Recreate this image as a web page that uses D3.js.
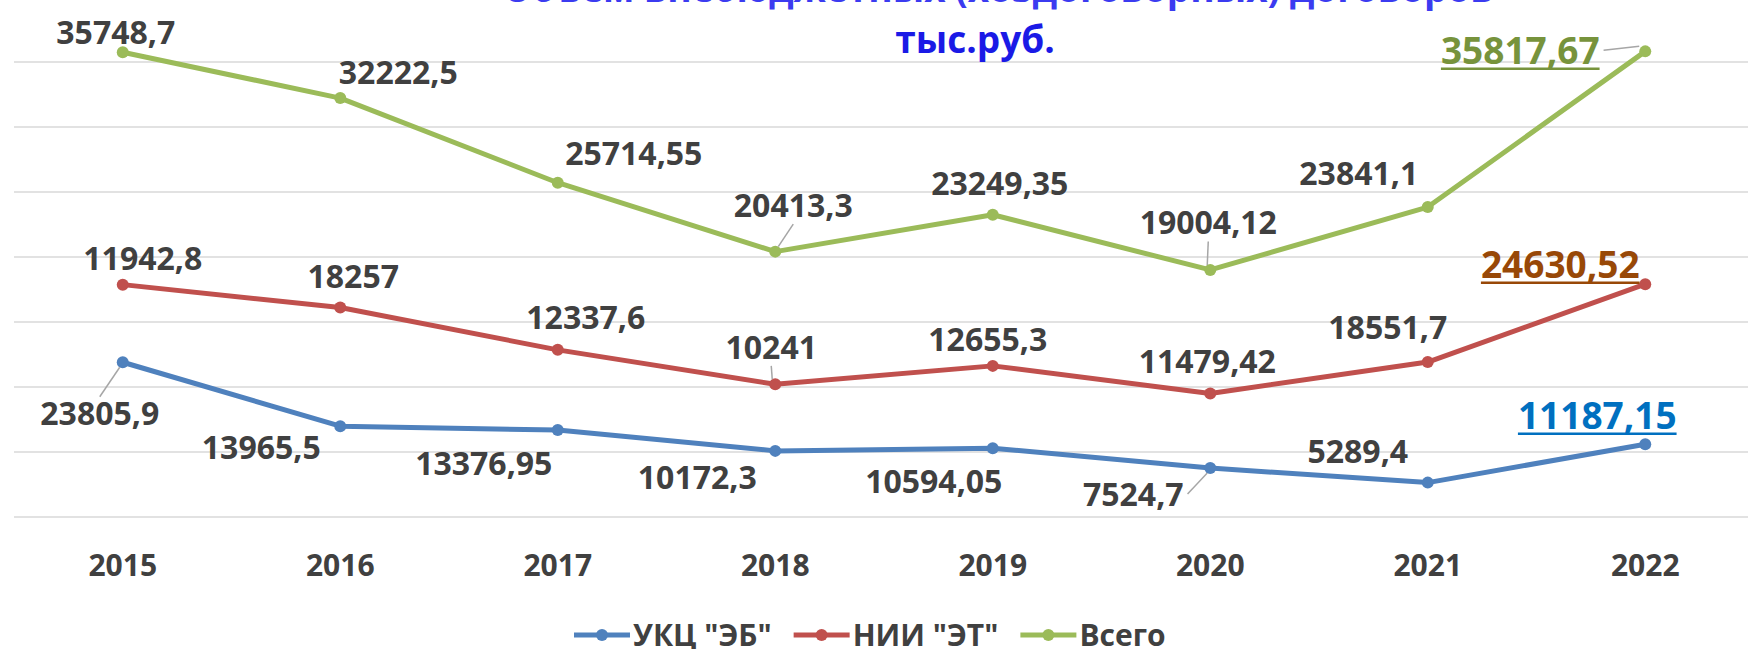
<!DOCTYPE html>
<html>
<head>
<meta charset="utf-8">
<script src="https://d3js.org/d3.v7.min.js"></script>
<style>
  html, body { margin: 0; padding: 0; background: #fff; }
  svg { display: block; font-family: "Open Sans", sans-serif; }
</style>
</head>
<body>
<svg id="chart" width="1748" height="649"></svg>
<script>
// data: stacked line chart (Excel), each series stacked on the previous one
var years = ["2015", "2016", "2017", "2018", "2019", "2020", "2021", "2022"];
var ukc = [23805.9, 13965.5, 13376.95, 10172.3, 10594.05, 7524.7, 5289.4, 11187.15];
var nii = [11942.8, 18257, 12337.6, 10241, 12655.3, 11479.42, 18551.7, 24630.52];
var total = [35748.7, 32222.5, 25714.55, 20413.3, 23249.35, 19004.12, 23841.1, 35817.67];
var seriesNames = ['УКЦ "ЭБ"', 'НИИ "ЭТ"', "Всего"];
var gridTicks = [0, 10000, 20000, 30000, 40000, 50000, 60000, 70000, 80000];

// label placement (manual, like in the source chart), px relative to the point
var labelOffsets = [
  [[-23, 51], [-79, 21], [-74, 33], [-78, 27], [-59, 33], [-77, 26], [-70, -31], [-48, -29]],
  [[20, -26], [13, -31], [28, -32], [-4, -37], [-5, -26], [-3, -32], [-40, -35], [-85, -20]],
  [[-7, -20], [58, -26], [76, -29], [18, -46], [7, -31], [-2, -47], [-69, -34], [-125, -1]]
];
var leaders = [[0, 5], [3], [3, 5, 7]]; // indices with a leader line
var colors = ["#4f81bd", "#c0504d", "#9bbb59"];
var lastLabelColors = ["#0070c0", "#984807", "#77933c"];

var svg = d3.select("#chart");
var fmt = function(v) { return String(v).replace(".", ","); };

var x = d3.scalePoint().domain(years).range([14, 1754]).padding(0.5);
var y = d3.scaleLinear().domain([0, 80000]).range([517, -3]);

// gridlines
svg.append("g").selectAll("line").data(gridTicks).join("line")
  .attr("x1", 14).attr("x2", 1754)
  .attr("y1", d => y(d)).attr("y2", d => y(d))
  .attr("stroke", "#d9d9d9").attr("stroke-width", 1.5);

// titles (top line is cut off in the source)
svg.append("text").attr("x", 998).attr("y", 2).attr("text-anchor", "middle")
  .attr("font-size", 37).attr("font-weight", 700).attr("fill", "#3b3bf0")
  .text("Объем внебюджетных (хоздоговорных) договоров");
svg.append("text").attr("x", 975).attr("y", 53).attr("text-anchor", "middle")
  .attr("font-size", 37).attr("font-weight", 700).attr("fill", "#1a1ae6")
  .text("тыс.руб.");

// x axis labels
svg.append("g").selectAll("text").data(years).join("text")
  .attr("x", d => x(d)).attr("y", 576).attr("text-anchor", "middle")
  .attr("font-size", 30).attr("font-weight", 700).attr("fill", "#404040")
  .text(d => d);

// stack
var raw = [ukc, nii, total];
var stacked = [];
var acc = years.map(() => 0);
raw.forEach(function(s) {
  acc = acc.map((a, i) => a + s[i]);
  stacked.push(acc.slice());
});

var line = d3.line().x((d, i) => x(years[i])).y(d => y(d));

stacked.forEach(function(s, k) {
  svg.append("path").datum(s).attr("d", line)
    .attr("fill", "none").attr("stroke", colors[k]).attr("stroke-width", 5)
    .attr("stroke-linejoin", "round");
  svg.append("g").selectAll("circle").data(s).join("circle")
    .attr("cx", (d, i) => x(years[i])).attr("cy", d => y(d)).attr("r", 6)
    .attr("fill", colors[k]);
});

// data labels
stacked.forEach(function(s, k) {
  var g = svg.append("g");
  s.forEach(function(v, i) {
    var px = x(years[i]), py = y(v);
    var lx = px + labelOffsets[k][i][0], ly = py + labelOffsets[k][i][1];
    var last = i === years.length - 1;
    var fs = last ? 37 : 32;
    var t = g.append("text").attr("x", lx).attr("y", ly).attr("dy", "0.36em")
      .attr("text-anchor", "middle").attr("font-size", fs).attr("font-weight", 700)
      .attr("fill", last ? lastLabelColors[k] : "#404040")
      .text(fmt(raw[k][i]));
    var bb = t.node().getBBox();
    if (last) {
      g.append("line").attr("x1", bb.x).attr("x2", bb.x + bb.width)
        .attr("y1", ly + fs * 0.5).attr("y2", ly + fs * 0.5)
        .attr("stroke", lastLabelColors[k]).attr("stroke-width", 2.5);
    }
    if (leaders[k].indexOf(i) >= 0) {
      var sx, sy;
      if (Math.abs(lx - px) > bb.width / 2) { // label to the side
        sx = lx < px ? bb.x + bb.width + 4 : bb.x - 4;
        sy = ly;
      } else {
        sx = lx;
        sy = py < ly ? bb.y + 6 : bb.y + bb.height - 2;
      }
      g.insert("line", "text").attr("x1", sx).attr("y1", sy)
        .attr("x2", px + (sx < px ? -6 : 6) * (Math.abs(sy - py) < 4 ? 1 : 0.5))
        .attr("y2", py + (sy < py ? -5 : 5))
        .attr("stroke", "#a6a6a6").attr("stroke-width", 1.5);
    }
  });
});

// legend
var legend = svg.append("g");
var lx0 = 574;
seriesNames.forEach(function(name, k) {
  var item = legend.append("g").attr("transform", "translate(" + lx0 + ",635)");
  item.append("line").attr("x1", 0).attr("x2", 56).attr("y1", 0).attr("y2", 0)
    .attr("stroke", colors[k]).attr("stroke-width", 5);
  item.append("circle").attr("cx", 28).attr("cy", 0).attr("r", 6).attr("fill", colors[k]);
  var t = item.append("text").attr("x", 59).attr("y", 0).attr("dy", "0.36em")
    .attr("font-size", 30).attr("font-weight", 700).attr("fill", "#404040").text(name);
  lx0 += 59 + t.node().getComputedTextLength() + 22;
});
</script>
</body>
</html>
